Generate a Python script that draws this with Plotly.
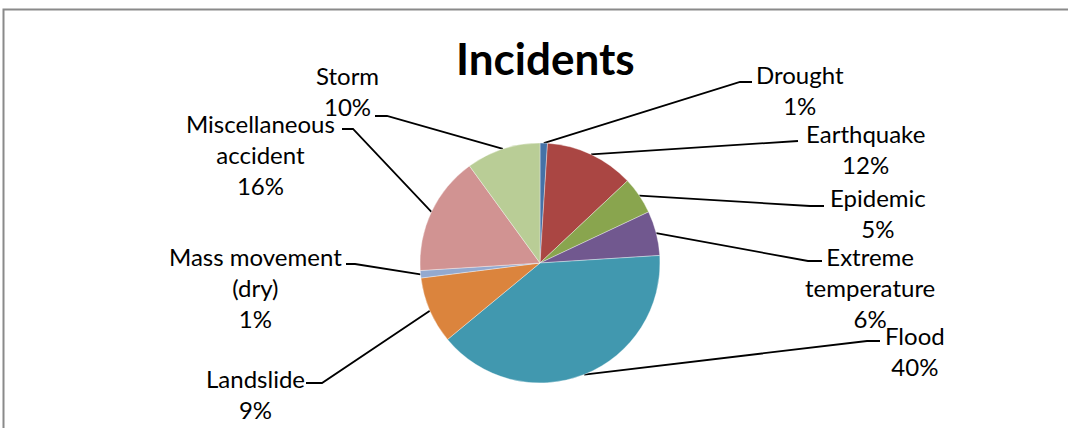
import math
import plotly.graph_objects as go

# Incident categories and their share (%)
categories = ["Drought", "Earthquake", "Epidemic", "Extreme temperature", "Flood",
              "Landslide", "Mass movement (dry)", "Miscellaneous accident", "Storm"]
shares = [1, 12, 5, 6, 40, 9, 1, 16, 10]
label_lines = [["Drought"], ["Earthquake"], ["Epidemic"], ["Extreme", "temperature"], ["Flood"],
               ["Landslide"], ["Mass movement", "(dry)"], ["Miscellaneous", "accident"], ["Storm"]]
colors = ["#4572A7", "#AA4643", "#89A54E", "#71588F", "#4198AF",
          "#DB843D", "#93A9CF", "#D19392", "#B9CD96"]

W, H = 1068, 428
CX, CY, R = 540, 263, 120

# label block centres (px) and elbow of each leader line (px)
label_pos = [(800, 90), (865, 149), (878, 213), (870, 287), (915, 351),
             (255, 394), (255, 287), (260, 154), (347, 91)]
elbows = [((740, 82), (752, 82)), ((788, 141), (798, 141)), ((810, 206), (824, 206)),
          ((808, 261), (822, 261)), ((867, 341), (880, 341)), ((322, 383), (306, 383)),
          ((355, 264), (346, 264)), ((353, 129), (342, 129)), ((387, 116), (375, 116))]

FONT = "Lato, 'Open Sans', sans-serif"

fig = go.Figure()
fig.add_trace(go.Pie(
    labels=categories, values=shares, sort=False, direction="clockwise", rotation=0,
    marker=dict(colors=colors, line=dict(color="rgba(255,255,255,0.6)", width=0.6)),
    textinfo="none", hoverinfo="label+percent", showlegend=False,
    domain=dict(x=[(CX - R) / W, (CX + R) / W], y=[1 - (CY + R) / H, 1 - (CY - R) / H]),
))

# hidden pixel-space axes for leader lines and the frame
fig.add_trace(go.Scatter(x=[0, W], y=[0, H], mode="markers", marker=dict(opacity=0),
                         hoverinfo="skip", showlegend=False))

total = sum(shares)
cum = 0
for i, v in enumerate(shares):
    mid = (cum + v / 2) / total * 2 * math.pi
    cum += v
    sx = CX + R * math.sin(mid)
    sy = CY - R * math.cos(mid)
    (ex, ey), (hx, hy) = elbows[i]
    fig.add_trace(go.Scatter(x=[sx, ex, hx], y=[sy, ey, hy], mode="lines",
                             line=dict(color="black", width=1.8),
                             hoverinfo="skip", showlegend=False))
    txt = "<br>".join(label_lines[i] + [f"{v}%"])
    lx, ly = label_pos[i]
    fig.add_annotation(x=lx, y=ly, xref="x", yref="y", text=txt, showarrow=False,
                       align="center", xanchor="center", yanchor="middle",
                       font=dict(family=FONT, size=24, color="black"))

fig.add_annotation(x=545, y=58, xref="x", yref="y", text="<b>Incidents</b>", showarrow=False,
                   xanchor="center", yanchor="middle",
                   font=dict(family=FONT, size=44, color="black"))

fig.add_shape(type="rect", xref="x", yref="y", x0=3.5, y0=9.5, x1=W + 20, y1=H + 20,
              line=dict(color="#8a8a8a", width=2), layer="above")

fig.update_layout(
    width=W, height=H, margin=dict(l=0, r=0, t=0, b=0),
    paper_bgcolor="white", plot_bgcolor="rgba(0,0,0,0)",
    xaxis=dict(range=[0, W], visible=False, fixedrange=True),
    yaxis=dict(range=[H, 0], visible=False, fixedrange=True),
)

fig.write_html("out.html")
